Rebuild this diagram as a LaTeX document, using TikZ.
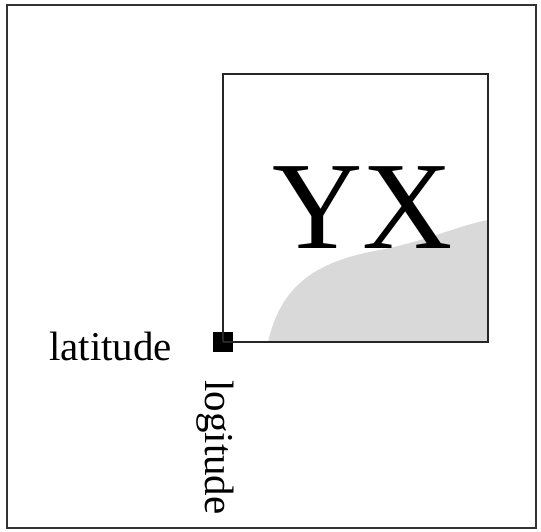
\documentclass[tikz,border=0pt]{standalone}
\usepackage{fontspec}
\setmainfont{Liberation Serif}
\begin{document}
\begin{tikzpicture}[x=1pt,y=-1pt,
  frame/.style={draw=black!80,line width=2.2pt},
  boxline/.style={draw=black!85,line width=1.8pt},
  marker/.style={fill=black,draw=none,minimum size=20pt,inner sep=0pt},
  lbl/.style={inner sep=0pt,font=\fontsize{41}{41}\selectfont}]
\useasboundingbox (0,0) rectangle (541,531);
\draw[frame] (7,5) rectangle (536,528);
% gray region
\fill[black!15] (268,342) .. controls (280,290) and (310,262) .. (380,250)
  .. controls (430,240) and (460,225) .. (488,220) -- (488,342) -- cycle;
\coordinate (tl) at (223,74);
\coordinate (tr) at (488,74);
\coordinate (br) at (488,342);
\node[marker] (origin) at (223,342) {};
\draw[boxline] (origin.center) -- (tl) -- (tr) -- (br) -- (origin.center);
\node[inner sep=0pt,anchor=base,font=\fontsize{125}{125}\selectfont] (yx) at (363,248) {YX};
\node[lbl,anchor=base west] (lat) at (49,360) {latitude};
\node[lbl,anchor=base west,rotate=-90] (lon) at (205,380) {logitude};
\end{tikzpicture}
\end{document}
